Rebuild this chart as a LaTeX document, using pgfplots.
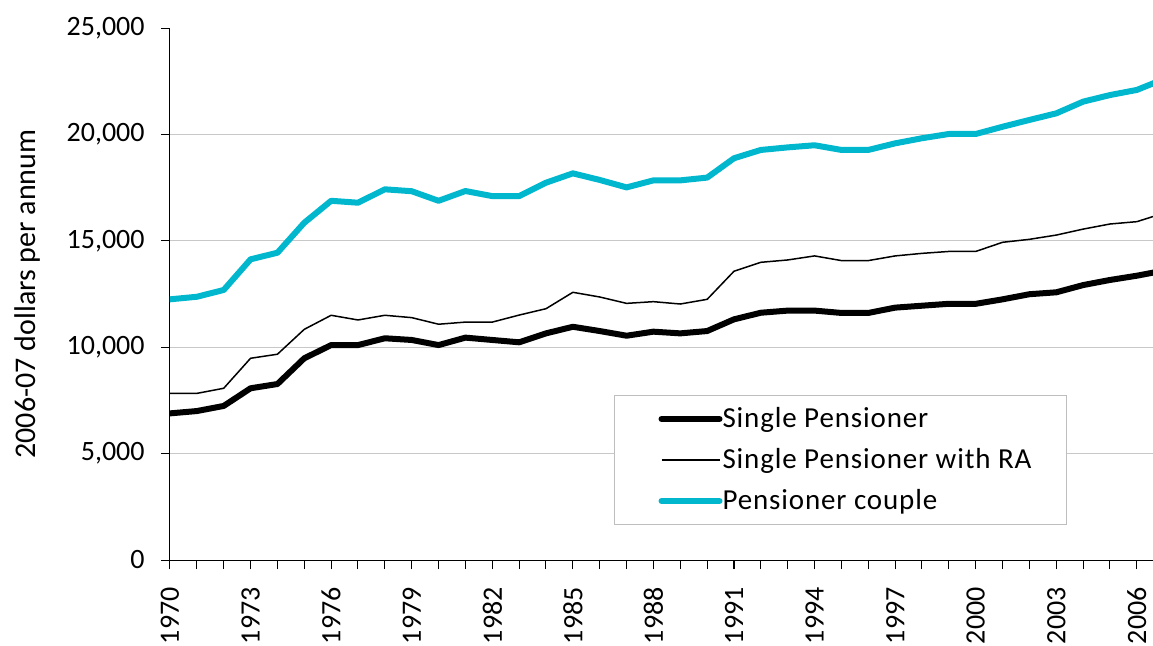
\documentclass[border=0pt]{standalone}
\usepackage{fontspec}
\setmainfont{Carlito}
\newfontfamily\legfont[LetterSpace=3]{Carlito}
\usepackage{pgfplots}
\pgfplotsset{compat=1.18}
\definecolor{couple}{RGB}{0,183,206}
\definecolor{gridc}{RGB}{200,200,200}
\definecolor{legc}{RGB}{190,190,190}
\newcommand{\chfont}{\fontsize{14pt}{16.5pt}\selectfont}
\begin{document}
\begin{tikzpicture}
\useasboundingbox (-85pt,-42.5pt) rectangle (491.5pt,280pt);
\begin{axis}[
  scale only axis,
  width=491.5pt, height=266pt,
  xmin=1970, xmax=2006.6,
  ymin=0, ymax=25000,
  axis lines*=left,
  axis line style={black, line width=0.5pt},
  tick align=outside,
  major tick length=4.5pt, minor tick length=4.5pt,
  tick style={black, line width=0.5pt},
  xtick={1970,1973,...,2006},
  minor xtick={1970,...,2006},
  xticklabel={\pgfmathprintnumber[1000 sep={}]{\tick}},
  ytick={0,5000,...,25000},
  scaled y ticks=false,
  yticklabel={\pgfmathprintnumber[fixed, precision=0, 1000 sep={,}]{\tick}},
  extra y ticks={5000,10000,15000,20000},
  extra y tick labels={},
  extra y tick style={grid=major, major tick length=0pt},
  grid style={gridc, line width=0.5pt},
  /pgf/number format/.cd, 1000 sep={,}, assume math mode=true,
  /pgfplots/.cd,
  tick label style={font=\chfont, text=black},
  xticklabel style={rotate=90, anchor=east, inner sep=0pt},
  xticklabel shift=9pt,
  yticklabel style={inner sep=0pt},
  yticklabel shift=8pt,
  ylabel={2006-07 dollars per annum},
  ylabel style={font=\fontsize{15pt}{18pt}\selectfont, at={(axis description cs:-0.1445,0.5)}, anchor=center},
  legend style={at={(0.4517,0.3102)}, anchor=north west, draw=legc, line width=0.5pt,
    font=\legfont\fontsize{14.5pt}{17pt}\selectfont, inner xsep=22pt, inner ysep=1.5pt, row sep=0pt,
    nodes={inner sep=0pt, minimum height=20.5pt},
    /tikz/every even column/.append style={column sep=2.5pt}},
  legend cell align=left,
  legend image code/.code={\draw[#1] (0pt,0pt) -- (29pt,0pt);},
  clip=true,
]
\addplot[black, line width=3pt, line join=round, line cap=round] coordinates {
(1970,6890)(1971,7000)(1972,7240)(1973,8070)(1974,8270)(1975,9480)(1976,10100)(1977,10100)
(1978,10420)(1979,10340)(1980,10100)(1981,10450)(1982,10340)(1983,10230)(1984,10650)(1985,10960)
(1986,10760)(1987,10540)(1988,10730)(1989,10650)(1990,10760)(1991,11310)(1992,11620)(1993,11720)
(1994,11720)(1995,11610)(1996,11610)(1997,11860)(1998,11950)(1999,12040)(2000,12040)(2001,12250)
(2002,12490)(2003,12580)(2004,12920)(2005,13160)(2006,13360)(2007,13600)};
\addlegendentry{\makebox[150pt][l]{Single Pensioner}}
\addplot[black, line width=0.75pt, line join=round] coordinates {
(1970,7830)(1971,7830)(1972,8070)(1973,9480)(1974,9670)(1975,10840)(1976,11500)(1977,11280)
(1978,11500)(1979,11390)(1980,11080)(1981,11180)(1982,11180)(1983,11510)(1984,11810)(1985,12580)
(1986,12360)(1987,12060)(1988,12140)(1989,12030)(1990,12250)(1991,13570)(1992,13990)(1993,14100)
(1994,14290)(1995,14070)(1996,14070)(1997,14290)(1998,14410)(1999,14500)(2000,14500)(2001,14930)
(2002,15070)(2003,15270)(2004,15550)(2005,15790)(2006,15900)(2007,16300)};
\addlegendentry{\makebox[150pt][l]{Single Pensioner with RA}}
\addplot[couple, line width=3pt, line join=round, line cap=round] coordinates {
(1970,12250)(1971,12370)(1972,12690)(1973,14130)(1974,14440)(1975,15850)(1976,16880)(1977,16790)
(1978,17420)(1979,17330)(1980,16880)(1981,17340)(1982,17100)(1983,17100)(1984,17730)(1985,18170)
(1986,17860)(1987,17510)(1988,17840)(1989,17840)(1990,17970)(1991,18880)(1992,19270)(1993,19390)
(1994,19490)(1995,19270)(1996,19270)(1997,19580)(1998,19820)(1999,20020)(2000,20020)(2001,20360)
(2002,20680)(2003,20990)(2004,21540)(2005,21850)(2006,22090)(2007,22600)};
\addlegendentry{\makebox[150pt][l]{Pensioner couple}}
\end{axis}
\end{tikzpicture}
\end{document}
